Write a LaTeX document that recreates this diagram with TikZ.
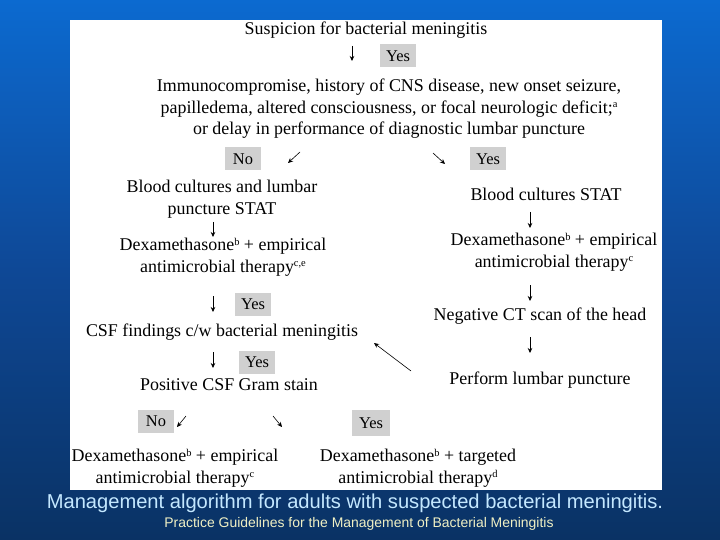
\documentclass[tikz,border=0pt]{standalone}
\usepackage{fontspec}
\setmainfont{Liberation Serif}
\newfontfamily\capfont{Liberation Sans}
\usetikzlibrary{arrows.meta}
\definecolor{bgtop}{RGB}{12,106,208}
\definecolor{bgmid}{RGB}{14,72,150}
\definecolor{bgbot}{RGB}{10,50,100}
\definecolor{yesgray}{RGB}{208,208,208}
\definecolor{capcol}{RGB}{196,232,255}
\definecolor{subcol}{RGB}{240,240,196}
\newcommand{\mysup}[1]{\raisebox{5.5bp}{\fontsize{10.5}{10.5}\selectfont #1}}
\tikzset{
  txt/.style={inner sep=0pt, font=\fontsize{18}{21.7}\selectfont, align=center, text=black},
  tag/.style={fill=yesgray, font=\fontsize{16.5}{18}\selectfont, minimum width=36bp, minimum height=23bp, inner sep=0pt},
  arr/.style={line width=0.6bp, -{Stealth[length=5bp,width=4.5bp]}},
}
\begin{document}
\begin{tikzpicture}[x=1bp,y=-1bp]
\useasboundingbox (0,0) rectangle (720,540);
\shade[top color=bgtop, bottom color=bgbot, middle color=bgmid] (0,0) rectangle (720,540);
\fill[white] (70,20) rectangle (662,490);

% left/top column
\node[txt] (susp) at (366,30) {Suspicion for bacterial meningitis};
\coordinate (a1s) at (352,46); \coordinate (a1e) at (352,61);
\draw[arr] (a1s) -- (a1e);
\node[tag] (y1) at (398,56) {Yes};
\node[txt] (immuno) at (389,109) {Immunocompromise, history of CNS disease, new onset seizure,\\
papilledema, altered consciousness, or focal neurologic deficit;\mysup{a}\\
or delay in performance of diagnostic lumbar puncture};

\node[tag] (no1) at (243,159) {No};
\coordinate (a2s) at (300,152); \coordinate (a2e) at (288,163);
\draw[arr] (a2s) -- (a2e);
\coordinate (a3s) at (433,153); \coordinate (a3e) at (445,164);
\draw[arr] (a3s) -- (a3e);
\node[tag] (y2) at (488,159) {Yes};

\node[txt] (blood1) at (222,199) {Blood cultures and lumbar\\ puncture STAT};
\coordinate (a4s) at (213,222); \coordinate (a4e) at (213,237);
\draw[arr] (a4s) -- (a4e);
\node[txt] (dexa1) at (223,257) {Dexamethasone\mysup{b} + empirical\\ antimicrobial therapy\mysup{c,e}};
\coordinate (a5s) at (213,296); \coordinate (a5e) at (213,312);
\draw[arr] (a5s) -- (a5e);
\node[tag] (y3) at (253,304) {Yes};
\node[txt] (csf) at (222,332) {CSF findings c/w bacterial meningitis};
\coordinate (a6s) at (213,352); \coordinate (a6e) at (213,368);
\draw[arr] (a6s) -- (a6e);
\node[tag] (y4) at (257,362) {Yes};
\node[txt] (gram) at (229,385) {Positive CSF Gram stain};

\node[tag] (no2) at (156,421) {No};
\coordinate (a7s) at (186,416); \coordinate (a7e) at (177,427);
\draw[arr] (a7s) -- (a7e);
\coordinate (a8s) at (273,416); \coordinate (a8e) at (282,427);
\draw[arr] (a8s) -- (a8e);
\node[tag, minimum height=26bp, minimum width=38bp] (y5) at (371,423) {Yes};

\node[txt] (dexa2) at (175,468) {Dexamethasone\mysup{b} + empirical\\ antimicrobial therapy\mysup{c}};
\node[txt] (dexa3) at (418,468) {Dexamethasone\mysup{b} + targeted\\ antimicrobial therapy\mysup{d}};

% right column
\node[txt] (blood2) at (546,194) {Blood cultures STAT};
\coordinate (b1s) at (530,212); \coordinate (b1e) at (530,228);
\draw[arr] (b1s) -- (b1e);
\node[txt] (dexa4) at (554,252) {Dexamethasone\mysup{b} + empirical\\ antimicrobial therapy\mysup{c}};
\coordinate (b2s) at (530,285); \coordinate (b2e) at (530,301);
\draw[arr] (b2s) -- (b2e);
\node[txt] (ct) at (540,316) {Negative CT scan of the head};
\coordinate (b3s) at (530,337); \coordinate (b3e) at (530,353);
\draw[arr] (b3s) -- (b3e);
\node[txt] (lp) at (540,380) {Perform lumbar puncture};
\coordinate (ls) at (411,371); \coordinate (le) at (374,343);
\draw[arr] (ls) -- (le);

% caption
\node[inner sep=0pt, text=capcol, font=\capfont\fontsize{20.2}{24}\selectfont] (cap) at (355,503) {Management algorithm for adults with suspected bacterial meningitis.};
\node[inner sep=0pt, text=subcol, font=\capfont\fontsize{14}{16}\selectfont] (sub) at (359,524) {Practice Guidelines for the Management of Bacterial Meningitis};
\end{tikzpicture}
\end{document}
